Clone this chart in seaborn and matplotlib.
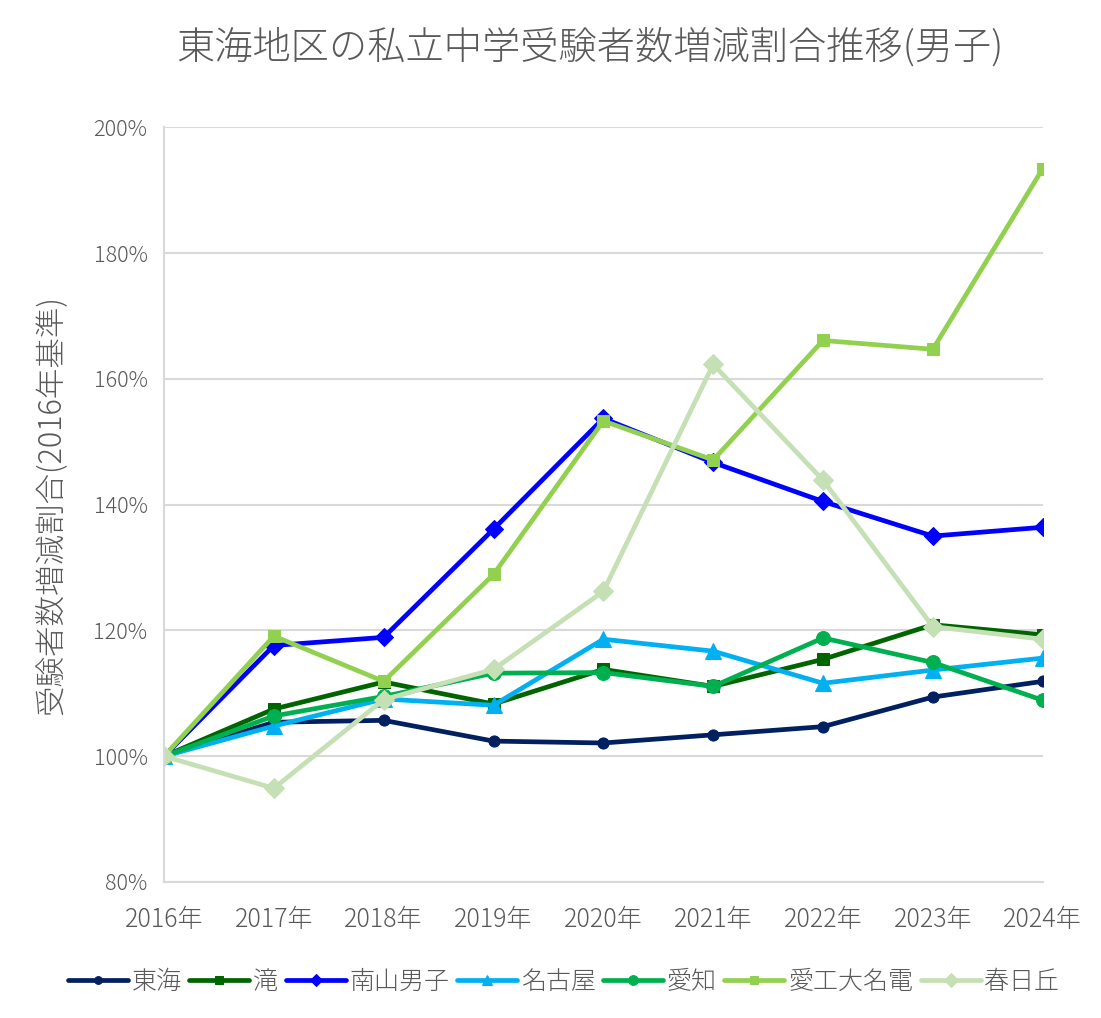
import matplotlib
matplotlib.use("Agg")
import matplotlib.pyplot as plt
import seaborn as sns
import pandas as pd
from matplotlib.ticker import FuncFormatter, MultipleLocator

years = ["2016年", "2017年", "2018年", "2019年", "2020年", "2021年", "2022年", "2023年", "2024年"]
schools = ["東海", "滝", "南山男子", "名古屋", "愛知", "愛工大名電", "春日丘"]
tokai = [100, 105.4, 105.7, 102.4, 102.1, 103.4, 104.7, 109.4, 111.9]
taki = [100, 107.5, 111.8, 108.3, 113.8, 111.1, 115.4, 120.9, 119.3]
nanzan = [100, 117.6, 118.9, 136.1, 153.7, 146.7, 140.5, 135.0, 136.4]
nagoya = [100, 104.8, 109.1, 108.1, 118.6, 116.7, 111.6, 113.7, 115.6]
aichi = [100, 106.4, 109.5, 113.2, 113.3, 111.1, 118.8, 114.9, 108.9]
meiden = [100, 119.1, 111.9, 128.9, 153.3, 147.1, 166.1, 164.7, 193.4]
kasugaoka = [100, 94.9, 109.0, 113.8, 126.2, 162.3, 143.9, 120.6, 118.6]

series = [tokai, taki, nanzan, nagoya, aichi, meiden, kasugaoka]
colors = ["#002060", "#006400", "#0000FF", "#00B0F0", "#00B050", "#92D050", "#C5E0B4"]
markers = ["o", "s", "D", "^", "o", "s", "D"]
msizes = [8, 9, 9, 11, 10, 9, 10]

rows = []
for name, vals in zip(schools, series):
    for i, v in enumerate(vals):
        rows.append({"year": i, "school": name, "value": v})
df = pd.DataFrame(rows)

sns.set_theme(style="white")
plt.rcParams['font.family'] = ['Noto Sans CJK JP', 'DejaVu Sans']
plt.rcParams['font.weight'] = 'light'
text_color = "#595959"

fig = plt.figure(figsize=(11.01, 10.18), dpi=100)
ax = fig.add_axes([0.149, 0.1336, 0.798, 0.7414])

for name, c, m, ms in zip(schools, colors, markers, msizes):
    sub = df[df["school"] == name]
    sns.lineplot(data=sub, x="year", y="value", ax=ax, color=c, marker=m,
                 markersize=ms, linewidth=3.4, markeredgecolor=c, label=name,
                 sort=False)

ax.set_xlim(0, len(years) - 1)
ax.set_ylim(80, 200)
ax.yaxis.set_major_locator(MultipleLocator(20))
ax.yaxis.set_major_formatter(FuncFormatter(lambda v, p: f"{int(round(v))}%"))
ax.set_xticks(range(len(years)))
ax.set_xticklabels(years)
ax.grid(axis="y", color="#D9D9D9", linewidth=1.5)
ax.grid(axis="x", visible=False)
for s in ["top", "right"]:
    ax.spines[s].set_visible(False)
ax.spines["left"].set_color("#D9D9D9")
ax.spines["left"].set_linewidth(1.5)
ax.spines["bottom"].set_color("#D9D9D9")
ax.spines["bottom"].set_linewidth(1.5)
ax.tick_params(axis="y", colors=text_color, labelsize=15.5, length=0, pad=12)
ax.tick_params(axis="x", colors="#D9D9D9", labelcolor=text_color, labelsize=18,
               direction="in", length=5, width=1.5, pad=18)
for lab in ax.get_xticklabels() + ax.get_yticklabels():
    lab.set_color(text_color)
    lab.set_fontweight('light')

ax.set_xlabel("")
ax.set_ylabel("受験者数増減割合(2016年基準)", fontsize=22, color=text_color,
              labelpad=12, fontweight='light')
ax.yaxis.set_label_coords(-0.11, 0.50)
fig.suptitle("東海地区の私立中学受験者数増減割合推移(男子)", fontsize=27.5,
             color=text_color, x=0.536, y=0.972, fontweight='light')

leg = ax.legend(loc="upper center", bbox_to_anchor=(0.455, -0.085), ncol=7,
                frameon=False, fontsize=18, handlelength=2.4, columnspacing=0.3,
                handletextpad=0.15, markerscale=0.7)
for t in leg.get_texts():
    t.set_color(text_color)
    t.set_fontweight('light')

fig.savefig("out.png", dpi=100)
